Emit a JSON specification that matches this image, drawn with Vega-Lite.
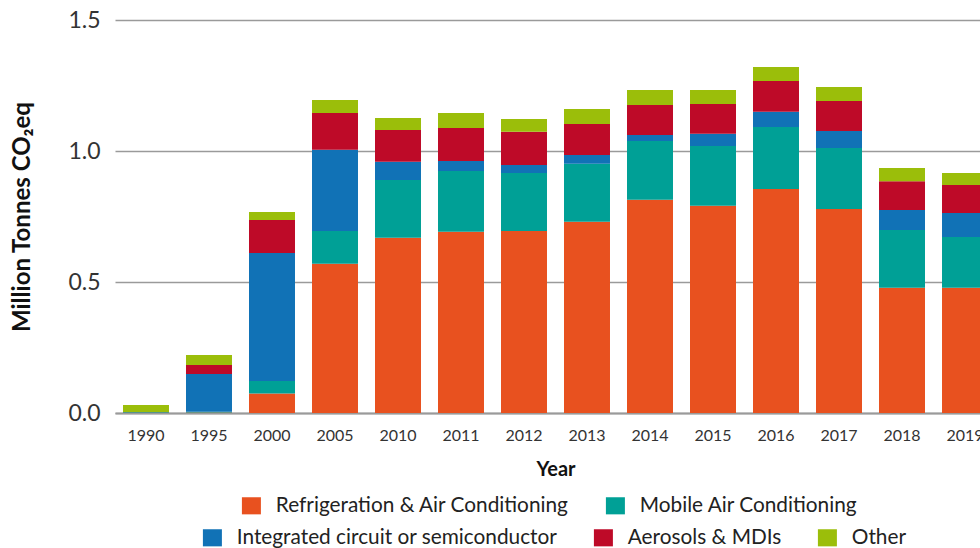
{
  "$schema": "https://vega.github.io/schema/vega-lite/v6.json",
  "width": 865,
  "height": 393,
  "autosize": {"type": "none"},
  "padding": {"left": 115, "top": 20, "right": 0, "bottom": 135},
  "data": {"values": [
    {"Year": "1990", "Category": "Refrigeration & Air Conditioning", "Value": 0.0},
    {"Year": "1990", "Category": "Mobile Air Conditioning", "Value": 0.0},
    {"Year": "1990", "Category": "Integrated circuit or semiconductor", "Value": 0.003},
    {"Year": "1990", "Category": "Aerosols & MDIs", "Value": 0.0},
    {"Year": "1990", "Category": "Other", "Value": 0.028},
    {"Year": "1995", "Category": "Refrigeration & Air Conditioning", "Value": 0.002},
    {"Year": "1995", "Category": "Mobile Air Conditioning", "Value": 0.003},
    {"Year": "1995", "Category": "Integrated circuit or semiconductor", "Value": 0.144},
    {"Year": "1995", "Category": "Aerosols & MDIs", "Value": 0.034},
    {"Year": "1995", "Category": "Other", "Value": 0.038},
    {"Year": "2000", "Category": "Refrigeration & Air Conditioning", "Value": 0.074},
    {"Year": "2000", "Category": "Mobile Air Conditioning", "Value": 0.048},
    {"Year": "2000", "Category": "Integrated circuit or semiconductor", "Value": 0.489},
    {"Year": "2000", "Category": "Aerosols & MDIs", "Value": 0.126},
    {"Year": "2000", "Category": "Other", "Value": 0.030},
    {"Year": "2005", "Category": "Refrigeration & Air Conditioning", "Value": 0.570},
    {"Year": "2005", "Category": "Mobile Air Conditioning", "Value": 0.125},
    {"Year": "2005", "Category": "Integrated circuit or semiconductor", "Value": 0.310},
    {"Year": "2005", "Category": "Aerosols & MDIs", "Value": 0.140},
    {"Year": "2005", "Category": "Other", "Value": 0.050},
    {"Year": "2010", "Category": "Refrigeration & Air Conditioning", "Value": 0.669},
    {"Year": "2010", "Category": "Mobile Air Conditioning", "Value": 0.220},
    {"Year": "2010", "Category": "Integrated circuit or semiconductor", "Value": 0.070},
    {"Year": "2010", "Category": "Aerosols & MDIs", "Value": 0.121},
    {"Year": "2010", "Category": "Other", "Value": 0.046},
    {"Year": "2011", "Category": "Refrigeration & Air Conditioning", "Value": 0.692},
    {"Year": "2011", "Category": "Mobile Air Conditioning", "Value": 0.232},
    {"Year": "2011", "Category": "Integrated circuit or semiconductor", "Value": 0.038},
    {"Year": "2011", "Category": "Aerosols & MDIs", "Value": 0.126},
    {"Year": "2011", "Category": "Other", "Value": 0.057},
    {"Year": "2012", "Category": "Refrigeration & Air Conditioning", "Value": 0.695},
    {"Year": "2012", "Category": "Mobile Air Conditioning", "Value": 0.221},
    {"Year": "2012", "Category": "Integrated circuit or semiconductor", "Value": 0.031},
    {"Year": "2012", "Category": "Aerosols & MDIs", "Value": 0.126},
    {"Year": "2012", "Category": "Other", "Value": 0.049},
    {"Year": "2013", "Category": "Refrigeration & Air Conditioning", "Value": 0.730},
    {"Year": "2013", "Category": "Mobile Air Conditioning", "Value": 0.221},
    {"Year": "2013", "Category": "Integrated circuit or semiconductor", "Value": 0.034},
    {"Year": "2013", "Category": "Aerosols & MDIs", "Value": 0.118},
    {"Year": "2013", "Category": "Other", "Value": 0.057},
    {"Year": "2014", "Category": "Refrigeration & Air Conditioning", "Value": 0.814},
    {"Year": "2014", "Category": "Mobile Air Conditioning", "Value": 0.224},
    {"Year": "2014", "Category": "Integrated circuit or semiconductor", "Value": 0.023},
    {"Year": "2014", "Category": "Aerosols & MDIs", "Value": 0.115},
    {"Year": "2014", "Category": "Other", "Value": 0.057},
    {"Year": "2015", "Category": "Refrigeration & Air Conditioning", "Value": 0.791},
    {"Year": "2015", "Category": "Mobile Air Conditioning", "Value": 0.228},
    {"Year": "2015", "Category": "Integrated circuit or semiconductor", "Value": 0.047},
    {"Year": "2015", "Category": "Aerosols & MDIs", "Value": 0.113},
    {"Year": "2015", "Category": "Other", "Value": 0.054},
    {"Year": "2016", "Category": "Refrigeration & Air Conditioning", "Value": 0.855},
    {"Year": "2016", "Category": "Mobile Air Conditioning", "Value": 0.237},
    {"Year": "2016", "Category": "Integrated circuit or semiconductor", "Value": 0.058},
    {"Year": "2016", "Category": "Aerosols & MDIs", "Value": 0.117},
    {"Year": "2016", "Category": "Other", "Value": 0.054},
    {"Year": "2017", "Category": "Refrigeration & Air Conditioning", "Value": 0.779},
    {"Year": "2017", "Category": "Mobile Air Conditioning", "Value": 0.232},
    {"Year": "2017", "Category": "Integrated circuit or semiconductor", "Value": 0.065},
    {"Year": "2017", "Category": "Aerosols & MDIs", "Value": 0.115},
    {"Year": "2017", "Category": "Other", "Value": 0.053},
    {"Year": "2018", "Category": "Refrigeration & Air Conditioning", "Value": 0.478},
    {"Year": "2018", "Category": "Mobile Air Conditioning", "Value": 0.220},
    {"Year": "2018", "Category": "Integrated circuit or semiconductor", "Value": 0.077},
    {"Year": "2018", "Category": "Aerosols & MDIs", "Value": 0.110},
    {"Year": "2018", "Category": "Other", "Value": 0.050},
    {"Year": "2019", "Category": "Refrigeration & Air Conditioning", "Value": 0.478},
    {"Year": "2019", "Category": "Mobile Air Conditioning", "Value": 0.194},
    {"Year": "2019", "Category": "Integrated circuit or semiconductor", "Value": 0.091},
    {"Year": "2019", "Category": "Aerosols & MDIs", "Value": 0.107},
    {"Year": "2019", "Category": "Other", "Value": 0.046}
  ]},
  "transform": [
    {"stack": "Value", "groupby": ["Year"], "as": ["v0", "v1"]}
  ],
  "encoding": {
    "x": {
      "field": "Year", "type": "nominal",
      "scale": {"range": [0, 881], "paddingInner": 0.27, "paddingOuter": 0.127},
      "axis": {
        "title": "Year", "labelAngle": 0, "ticks": false, "grid": false,
        "domain": true, "domainColor": "#9a9a9a", "domainWidth": 2,
        "labelFont": "Lato", "labelFontSize": 16, "labelColor": "#333333", "labelPadding": 14,
        "titleFont": "Lato", "titleFontSize": 20, "titleFontWeight": "bold", "titleColor": "#111111", "titlePadding": 16
      }
    },
    "y": {
      "field": "v1", "type": "quantitative",
      "scale": {"domain": [0, 1.5]},
      "axis": {
        "title": "Million Tonnes CO₂eq", "values": [0, 0.5, 1, 1.5], "format": ".1f",
        "domain": false, "ticks": false, "grid": true, "gridColor": "#9a9a9a", "gridWidth": 1.5,
        "labelFont": "Lato", "labelFontSize": 23, "labelColor": "#333333", "labelPadding": 15,
        "titleFont": "Lato", "titleFontSize": 24, "titleFontWeight": "bold", "titleColor": "#111111", "titlePadding": 33
      }
    },
    "y2": {"field": "v0"}
  },
  "layer": [
    {
      "transform": [{"filter": {"field": "Category", "oneOf": ["Refrigeration & Air Conditioning", "Mobile Air Conditioning"]}}],
      "mark": {"type": "bar"},
      "encoding": {
        "color": {
          "field": "Category", "type": "nominal",
          "scale": {"domain": ["Refrigeration & Air Conditioning", "Mobile Air Conditioning"], "range": ["#E8511F", "#00A096"]},
          "legend": {
            "orient": "none", "legendX": 126, "legendY": 475, "direction": "horizontal", "title": null,
            "symbolType": "M-1,-0.9H1V0.9H-1Z", "symbolSize": 361, "symbolStrokeWidth": 0,
            "labelFont": "Lato", "labelFontSize": 20.8, "labelColor": "#222222", "labelOffset": 14, "labelLimit": 400,
            "columnPadding": 35
          }
        }
      }
    },
    {
      "transform": [{"filter": {"field": "Category", "oneOf": ["Integrated circuit or semiconductor", "Aerosols & MDIs", "Other"]}}],
      "mark": {"type": "bar"},
      "encoding": {
        "color": {
          "field": "Category", "type": "nominal",
          "scale": {"domain": ["Integrated circuit or semiconductor", "Aerosols & MDIs", "Other"], "range": ["#1172B6", "#BE0A28", "#9BBE0A"]},
          "legend": {
            "orient": "none", "legendX": 87, "legendY": 507, "direction": "horizontal", "title": null,
            "symbolType": "M-1,-0.9H1V0.9H-1Z", "symbolSize": 361, "symbolStrokeWidth": 0,
            "labelFont": "Lato", "labelFontSize": 20.8, "labelColor": "#222222", "labelOffset": 14, "labelLimit": 400,
            "columnPadding": 35
          }
        }
      }
    }
  ],
  "resolve": {"scale": {"color": "independent"}},
  "config": {"view": {"stroke": null}}
}
